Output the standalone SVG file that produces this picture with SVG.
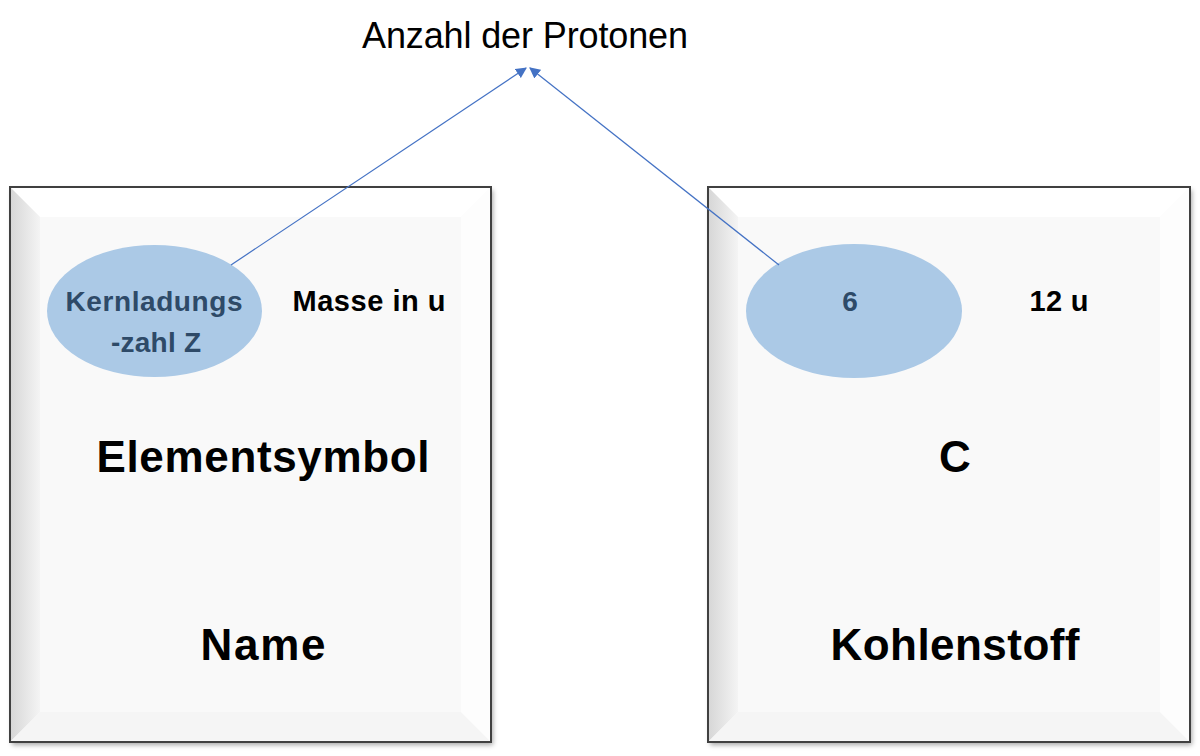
<svg xmlns="http://www.w3.org/2000/svg" width="1200" height="756" viewBox="0 0 1200 756">
<defs>
<style>
.face{fill:#f9f9f9}
.top{fill:#ffffff}
.left{fill:url(#gl)}
.bot{fill:#f5f5f5}
.right{fill:#fdfdfd}
.frame{fill:none;stroke:#404040;stroke-width:2}
.ell{fill:#abc9e6}
.etxt{font-family:"Liberation Sans",Arial,sans-serif;font-weight:bold;font-size:28px;fill:#2e4a68;text-anchor:middle}
.small{font-family:"Liberation Sans",Arial,sans-serif;font-weight:bold;font-size:29px;fill:#000;text-anchor:middle}
.big{font-family:"Liberation Sans",Arial,sans-serif;font-weight:bold;font-size:44px;fill:#000;text-anchor:middle}
.title{font-family:"Liberation Sans",Arial,sans-serif;font-size:36px;fill:#000;text-anchor:middle}
.conn{stroke:#4472c4;stroke-width:1.2;fill:none;marker-end:url(#arr)}
</style>
<linearGradient id="gl" x1="0" y1="0" x2="1" y2="0">
<stop offset="0" stop-color="#d6d6d6"/>
<stop offset="1" stop-color="#f4f4f4"/>
</linearGradient>
<filter id="sh" x="-5%" y="-5%" width="110%" height="110%">
<feDropShadow dx="2" dy="3" stdDeviation="2.5" flood-color="#000" flood-opacity="0.35"/>
</filter>
<marker id="arr" viewBox="0 0 10 10" refX="9" refY="5" markerWidth="11" markerHeight="11" markerUnits="userSpaceOnUse" orient="auto">
<path d="M0,0 L10,5 L0,10 z" fill="#4472c4"/>
</marker>
</defs>
<rect width="1200" height="756" fill="#ffffff"/>
<text id="title" class="title" x="525" y="48" textLength="326">Anzahl der Protonen</text>
<g id="box-left">
<rect x="10" y="187" width="481" height="555" fill="#fff" filter="url(#sh)"/>
<rect class="face" x="10" y="187" width="481" height="555"/>
<polygon class="top" points="10,187 491,187 461,217 40,217"/>
<polygon class="left" points="10,187 40,217 40,712 10,742"/>
<polygon class="bot" points="10,742 40,712 461,712 491,742"/>
<polygon class="right" points="491,187 491,742 461,712 461,217"/>
<rect class="frame" x="10" y="187" width="481" height="555"/>
</g>
<g id="ellipse-left">
<ellipse class="ell" cx="154.5" cy="311" rx="107.5" ry="66"/>
<text class="etxt" x="154" y="311" textLength="177">Kernladungs</text>
<text class="etxt" x="156" y="352" textLength="90">-zahl Z</text>
</g>
<text id="mass-left" class="small" x="369" y="311" textLength="153">Masse in u</text>
<text id="symbol-left" class="big" x="263" y="472" textLength="333">Elementsymbol</text>
<text id="name-left" class="big" x="263" y="660" textLength="125">Name</text>
<g id="box-right">
<rect x="708" y="187" width="482" height="555" fill="#fff" filter="url(#sh)"/>
<rect class="face" x="708" y="187" width="482" height="555"/>
<polygon class="top" points="708,187 1190,187 1160,217 738,217"/>
<polygon class="left" points="708,187 738,217 738,712 708,742"/>
<polygon class="bot" points="708,742 738,712 1160,712 1190,742"/>
<polygon class="right" points="1190,187 1190,742 1160,712 1160,217"/>
<rect class="frame" x="708" y="187" width="482" height="555"/>
</g>
<g id="ellipse-right">
<ellipse class="ell" cx="854" cy="311" rx="108" ry="67"/>
<text class="etxt" x="850" y="311">6</text>
</g>
<text id="mass-right" class="small" x="1059" y="311" textLength="59">12 u</text>
<text id="symbol-right" class="big" x="955" y="472">C</text>
<text id="name-right" class="big" x="955" y="660" textLength="249">Kohlenstoff</text>
<g id="connectors">
<line class="conn" x1="231" y1="265" x2="526" y2="68"/>
<line class="conn" x1="779" y1="265" x2="530" y2="68"/>
</g>
</svg>
